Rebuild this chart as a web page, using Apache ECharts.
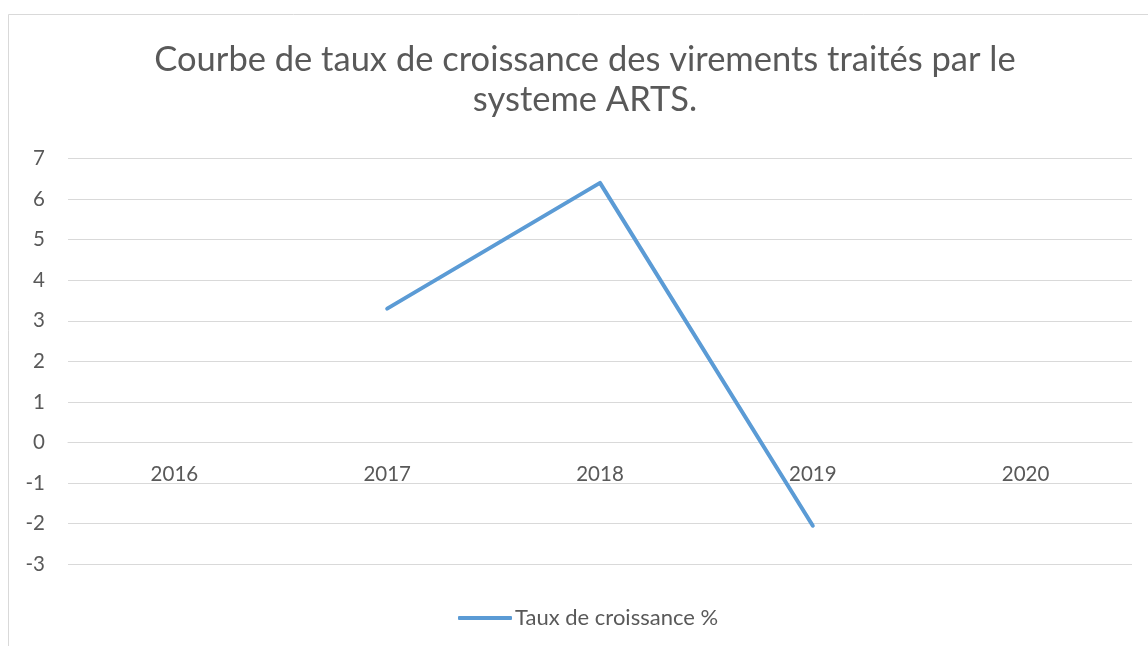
<!DOCTYPE html>
<html>
<head>
<meta charset="utf-8">
<script src="https://cdn.jsdelivr.net/npm/echarts@6/dist/echarts.min.js"></script>
<style>
html,body{margin:0;padding:0;background:#fff;}
#main{width:1148px;height:646px;}
</style>
</head>
<body>
<div id="main"></div>
<script>
const titleText = "Courbe de taux de croissance des virements traités par le\nsysteme ARTS.";
const categories = ["2016", "2017", "2018", "2019", "2020"];
const seriesName = "Taux de croissance %";
const growthValues = [null, 3.3, 6.4, -2.05, null];
const yTicks = { min: -3, max: 7, interval: 1 };

const chart = echarts.init(document.getElementById('main'), null, { renderer: 'canvas' });
const FONT = 'Lato, "Open Sans", sans-serif';
const TXT = '#595959';
const GRID = '#d9d9d9';

const gridTop = 158.5, gridBottom = 81.7, H = 646;
const plotH = H - gridTop - gridBottom;
// distance from bottom of plot to the zero line (axis sits on zero like the reference)
const zeroOffset = plotH * (0 - yTicks.min) / (yTicks.max - yTicks.min);

chart.setOption({
  backgroundColor: '#ffffff',
  animation: false,
  graphic: [{
    type: 'rect',
    shape: { x: 8.5, y: 14.5, width: 1160, height: 660 },
    style: { fill: 'none', stroke: GRID, lineWidth: 1 },
    silent: true
  }],
  title: {
    text: titleText,
    left: 580,
    textAlign: 'center',
    top: 35,
    textStyle: { fontFamily: FONT, fontSize: 34.5, fontWeight: 'normal', color: TXT, lineHeight: 40 }
  },
  legend: {
    data: [{ name: seriesName, icon: 'roundRect' }],
    left: 453,
    top: 602,
    itemWidth: 54,
    itemHeight: 4,
    textStyle: { fontFamily: FONT, fontSize: 22, color: TXT, padding: [0, 0, 0, -2] }
  },
  grid: { left: 68, right: 16, top: gridTop, bottom: gridBottom, containLabel: false },
  xAxis: {
    type: 'category',
    data: categories,
    boundaryGap: true,
    offset: -zeroOffset,
    axisLine: { show: true, onZero: false, lineStyle: { color: GRID, width: 1 } },
    axisTick: { show: false },
    axisLabel: { fontFamily: FONT, fontSize: 20.5, color: TXT, margin: 21 },
    splitLine: { show: false }
  },
  yAxis: {
    type: 'value',
    min: yTicks.min,
    max: yTicks.max,
    interval: yTicks.interval,
    axisLine: { show: false },
    axisTick: { show: false },
    axisLabel: { fontFamily: FONT, fontSize: 20.5, color: TXT, margin: 23 },
    splitLine: { show: true, lineStyle: { color: GRID, width: 1 } }
  },
  series: [{
    name: seriesName,
    type: 'line',
    data: growthValues,
    connectNulls: false,
    symbol: 'none',
    showSymbol: false,
    color: '#5b9bd5',
    lineStyle: { color: '#5b9bd5', width: 4, cap: 'round', join: 'round' }
  }]
});
</script>
</body>
</html>
